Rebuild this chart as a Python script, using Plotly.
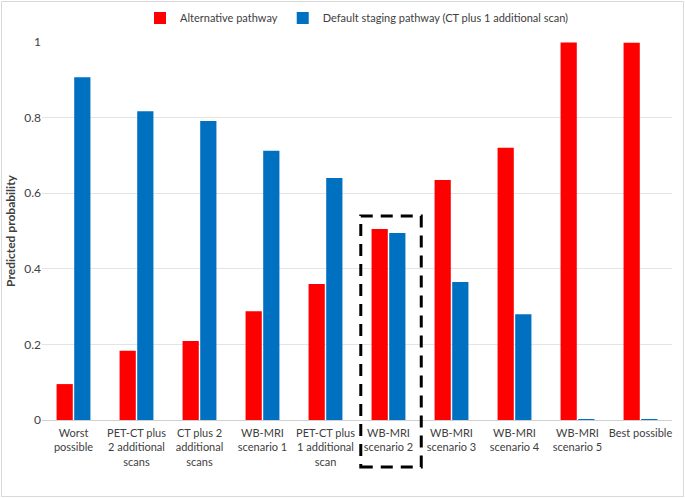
import plotly.graph_objects as go

categories = ["Worst<br>possible", "PET-CT plus<br>2 additional<br>scans", "CT plus 2<br>additional<br>scans",
              "WB-MRI<br>scenario 1", "PET-CT plus<br>1 additional<br>scan", "WB-MRI<br>scenario 2",
              "WB-MRI<br>scenario 3", "WB-MRI<br>scenario 4", "WB-MRI<br>scenario 5", "Best possible"]
alternative = [0.095, 0.183, 0.209, 0.288, 0.360, 0.505, 0.635, 0.720, 0.999, 0.998]
default = [0.907, 0.817, 0.791, 0.712, 0.640, 0.495, 0.365, 0.280, 0.002, 0.002]
ytick_vals = [0, 0.2, 0.4, 0.6, 0.8, 1]
ytick_text = ["0", "0.2", "0.4", "0.6", "0.8", "1"]

FONT = "Lato, 'Open Sans', sans-serif"
fig = go.Figure()
fig.add_trace(go.Bar(x=categories, y=alternative, name="Alternative pathway",
                     marker=dict(color="#FF0000", line=dict(width=0))))
fig.add_trace(go.Bar(x=categories, y=default, name="Default staging pathway (CT plus 1 additional scan)",
                     marker=dict(color="#0070C0", line=dict(width=0))))

L, R, T, B = 42, 13, 42, 78
W, H = 685, 498
pw, ph = W - L - R, H - T - B

def px(x):
    return (x - L) / pw

def py(y):
    return (H - B - y) / ph

fig.update_layout(
    width=W, height=H,
    margin=dict(l=L, r=R, t=T, b=B, autoexpand=False),
    paper_bgcolor="white", plot_bgcolor="white",
    barmode="group", bargap=0.44, bargroupgap=0.08,
    font=dict(family=FONT, size=11, color="#595959"),
    legend=dict(orientation="h", x=0.5, xanchor="center", yref="container", y=1 - 18 / H, yanchor="middle",
                font=dict(size=11, color="#404040"), itemwidth=30, tracegroupgap=0),
    xaxis=dict(showgrid=False, showline=False, automargin=False, ticklabelstandoff=5,
               ticks="", tickfont=dict(size=11, color="#404040"), tickangle=0),
    yaxis=dict(range=[0, 1.0], tickvals=ytick_vals, ticktext=ytick_text,
               showgrid=True, gridcolor="#E4E4E4", gridwidth=1, automargin=False,
               zeroline=True, zerolinecolor="#D0D0D0", zerolinewidth=1,
               ticks="", tickfont=dict(size=12, color="#404040"),
               title=dict(text="<b>Predicted probability</b>", font=dict(size=12, color="#404040"),
                          standoff=6)),
    showlegend=True,
)
# dashed highlight box around WB-MRI scenario 2
fig.add_shape(type="rect", xref="x", yref="paper", x0=4.56, x1=5.52, y0=py(467), y1=py(216),
              line=dict(color="black", width=3, dash="12px,8px"))
# outer chart border
fig.add_shape(type="rect", xref="paper", yref="paper", x0=px(1.5), x1=px(683.5), y0=py(496.5), y1=py(1.5),
              line=dict(color="#D9D9D9", width=1))

fig.write_html("out.html", config={"displayModeBar": False},
               post_script="document.body.style.margin='0';document.body.style.padding='0';")
